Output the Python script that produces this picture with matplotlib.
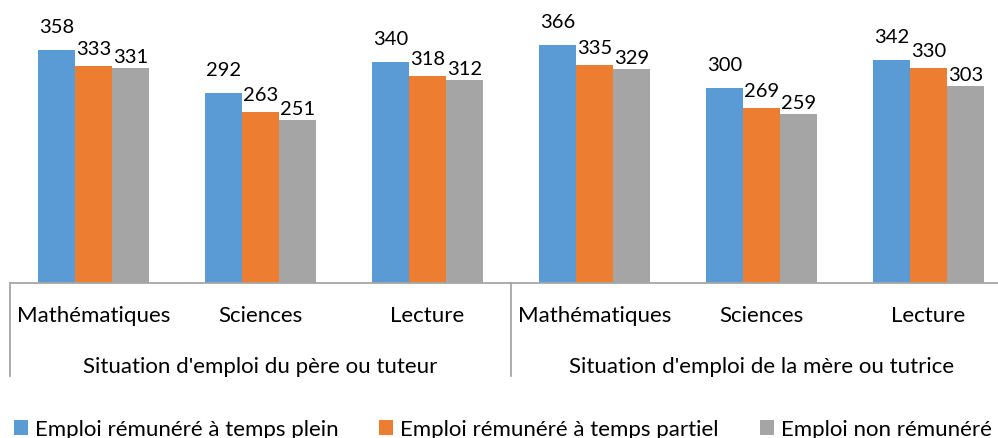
import matplotlib
matplotlib.use("Agg")
import matplotlib.pyplot as plt
from matplotlib.patches import Patch
import numpy as np

categories = ["Mathématiques", "Sciences", "Lecture", "Mathématiques", "Sciences", "Lecture"]
groups = ["Situation d'emploi du père ou tuteur", "Situation d'emploi de la mère ou tutrice"]
series_names = ["Emploi rémunéré à temps plein", "Emploi rémunéré à temps partiel", "Emploi non rémunéré"]
plein = [358, 292, 340, 366, 300, 342]
partiel = [333, 263, 318, 335, 269, 330]
non_remunere = [331, 251, 312, 329, 259, 303]

colors = ["#5B9BD5", "#ED7D31", "#A5A5A5"]
FONT = "Lato"
FS = 16
FS_LAB = 14.5
plt.rcParams['font.family'] = [FONT, 'DejaVu Sans']

W, H = 998, 439
fig = plt.figure(figsize=(W / 100, H / 100), dpi=100)
base_y = 284
px_per_unit = 0.651
ax_left, ax_right = 10, 1012
ax = fig.add_axes([ax_left / W, (H - base_y) / H, (ax_right - ax_left) / W, base_y / H])
ax.set_xlim(0, len(categories))
ax.set_ylim(0, base_y / px_per_unit)

bw = 37 / 167
x = np.arange(len(categories)) + 0.5
gaps_pt = [13, 8.6, 4.3]
for k, vals in enumerate([plein, partiel, non_remunere]):
    xs = x + (k - 1) * bw
    ax.bar(xs, vals, width=bw, color=colors[k], edgecolor='none', zorder=2)
    for xi, v in zip(xs, vals):
        ax.annotate(str(v), (xi, v), xytext=(0, gaps_pt[k]), textcoords='offset points',
                    ha='center', va='baseline', fontsize=FS_LAB, color='#000000',
                    annotation_clip=False)

for s in ['top', 'right', 'left']:
    ax.spines[s].set_visible(False)
ax.spines['bottom'].set_color('#A6A6A6')
ax.spines['bottom'].set_linewidth(1.3)
ax.set_xticks([])
ax.set_yticks([])

tr = ax.get_xaxis_transform()
sep_bottom = -(377 - base_y) / base_y
for xs in [0, 3, 6]:
    ax.plot([xs, xs], [0, sep_bottom], color='#A6A6A6', lw=1.3, transform=tr, clip_on=False)

cat_y = -(322 - base_y) / base_y
grp_y = -(373 - base_y) / base_y
for xi, c in zip(x, categories):
    ax.text(xi, cat_y, c, ha='center', va='baseline', fontsize=FS, transform=tr)
for gi, g in enumerate(groups):
    ax.text(gi * 3 + 1.5, grp_y, g, ha='center', va='baseline', fontsize=FS, transform=tr)

leg_x = [14, 379, 760]
for name, col, lx in zip(series_names, colors, leg_x):
    fig.legend(handles=[Patch(facecolor=col, edgecolor='none', label=name)],
               loc='center left', bbox_to_anchor=(lx / W, (H - 430) / H),
               frameon=False, fontsize=FS, handlelength=0.65, handleheight=0.65,
               handletextpad=0.3, borderpad=0, borderaxespad=0)

fig.savefig("out.png", dpi=100)
